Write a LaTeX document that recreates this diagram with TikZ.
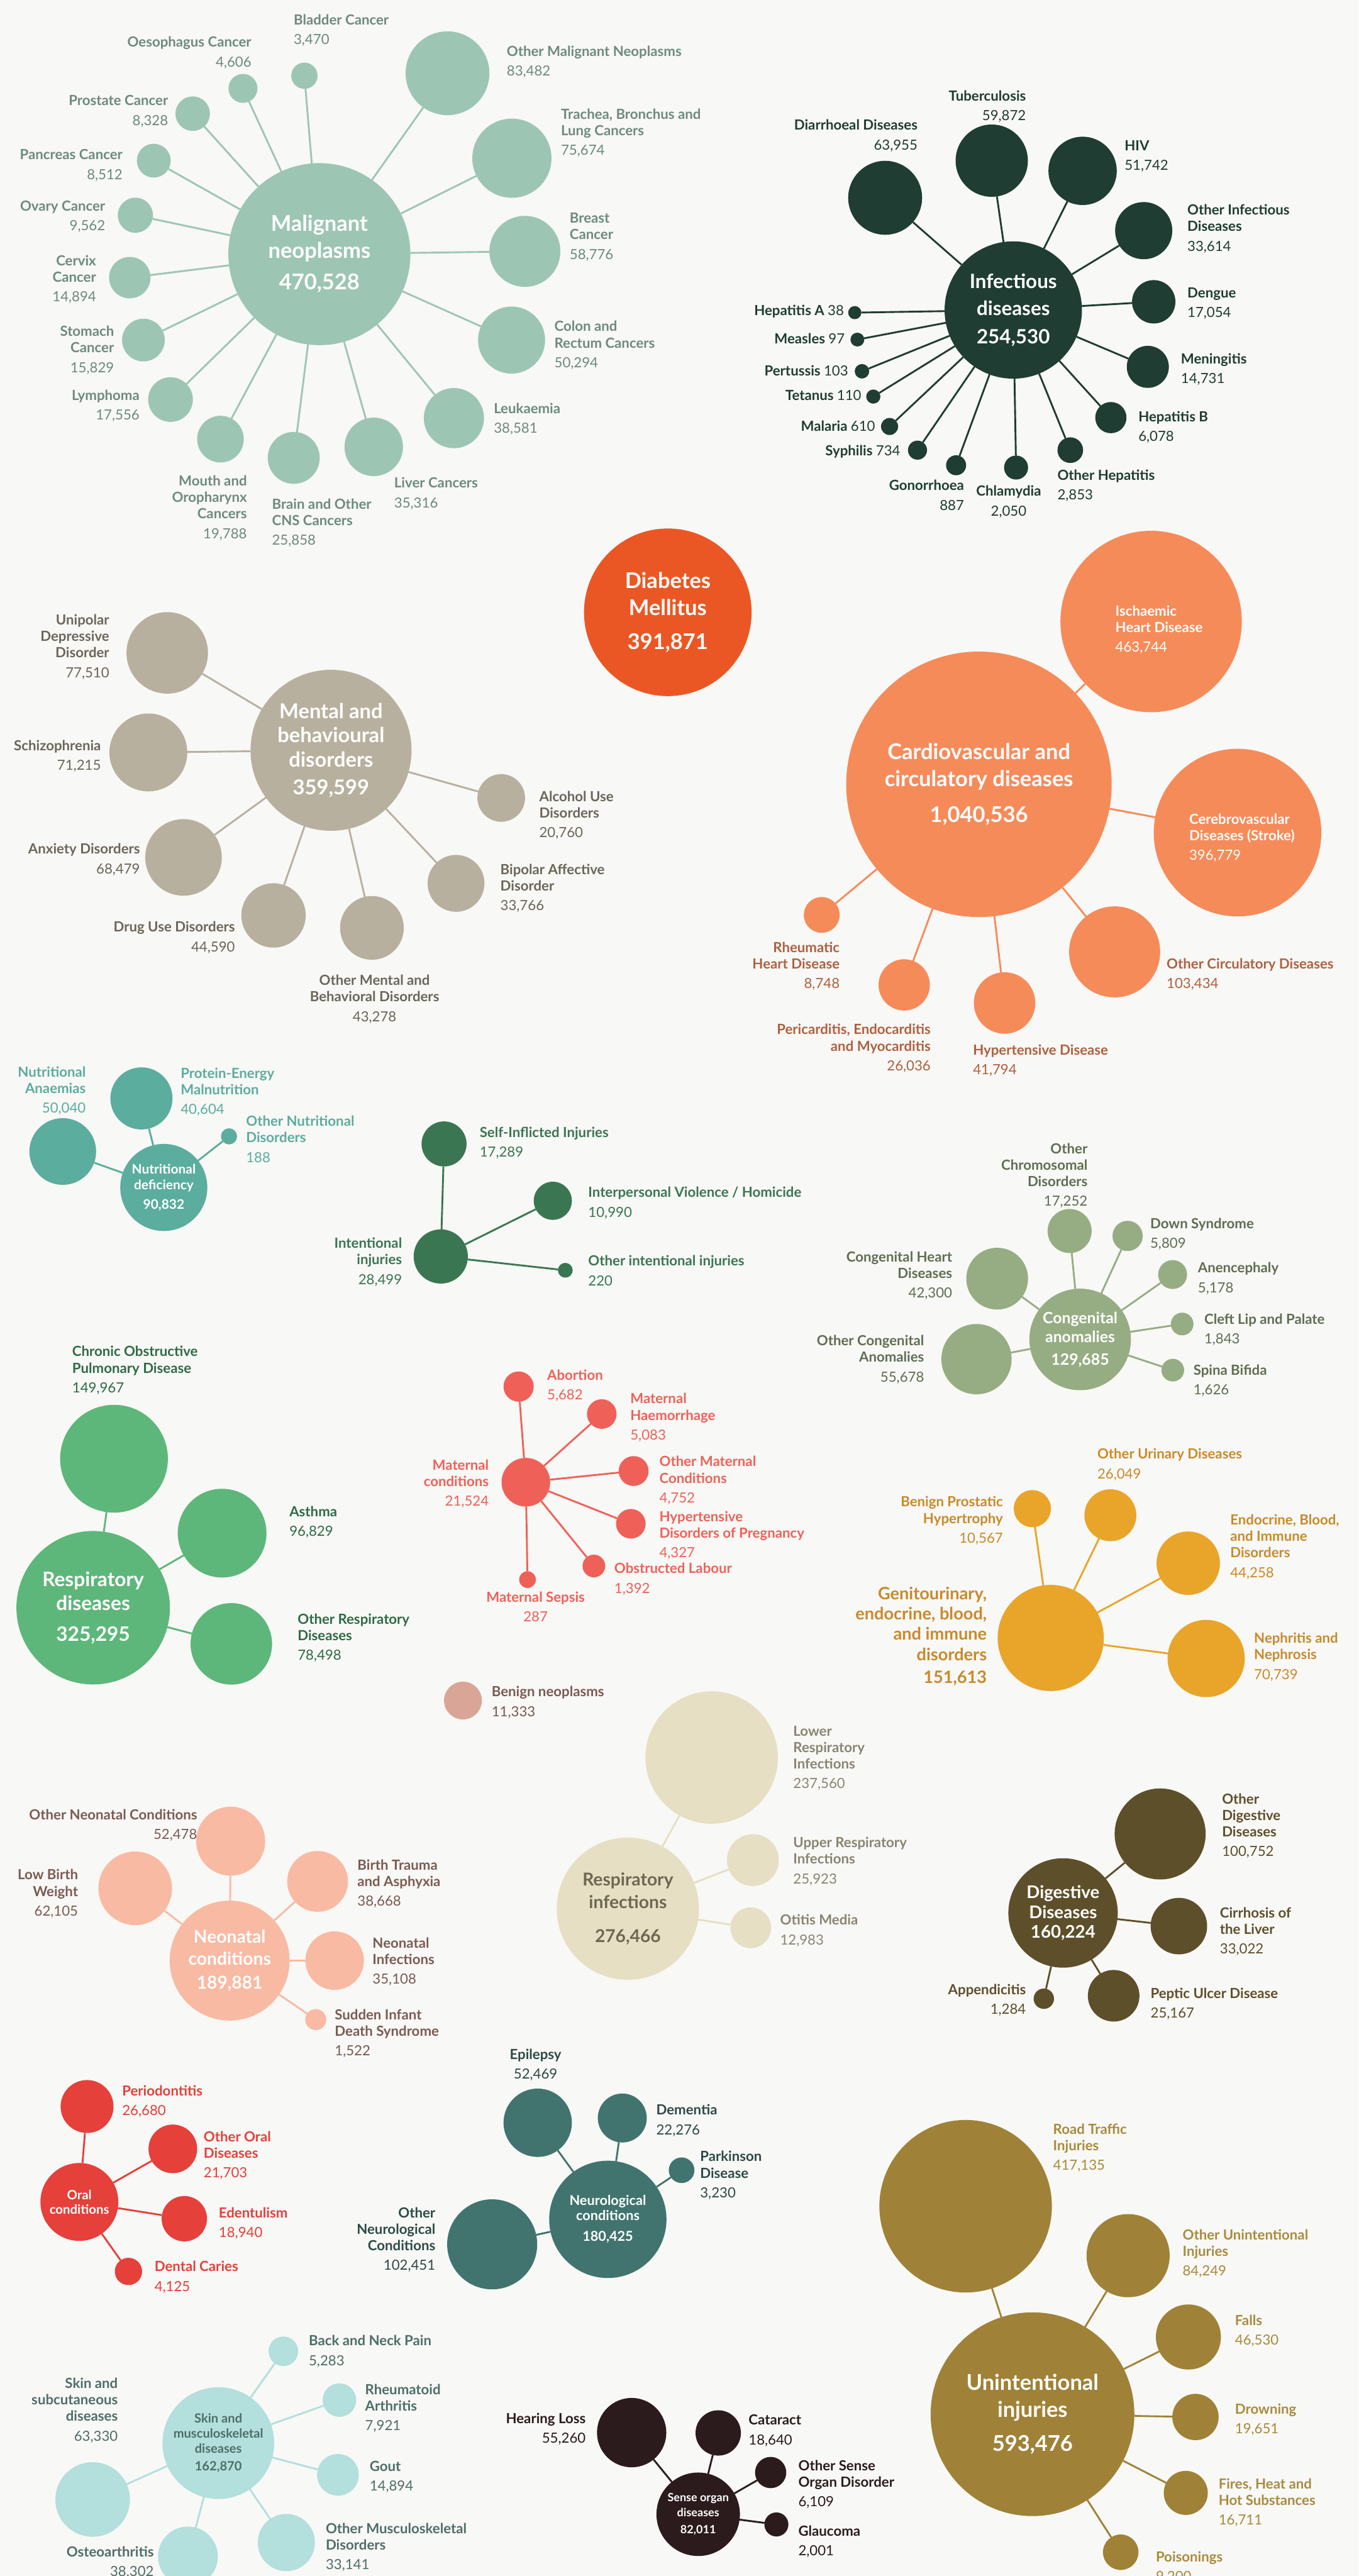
\documentclass[tikz,border=0pt]{standalone}
\usepackage{fontspec}
\setmainfont{Lato}
\usepackage{xcolor}
\usepackage{tikz}
\definecolor{paper}{HTML}{F8F8F6}
\definecolor{malfill}{HTML}{9CC6B3}
\definecolor{maltext}{HTML}{6D8B7D}
\definecolor{inffill}{HTML}{1F3D32}
\definecolor{diafill}{HTML}{EB5724}
\definecolor{menfill}{HTML}{B8B09E}
\definecolor{mentext}{HTML}{6B665A}
\definecolor{cvdfill}{HTML}{F68B5A}
\definecolor{cvdtext}{HTML}{B0603F}
\definecolor{nutfill}{HTML}{5BAD9E}
\definecolor{intfill}{HTML}{3B7652}
\definecolor{congfill}{HTML}{96AD83}
\definecolor{congtext}{HTML}{5E6E52}
\definecolor{resfill}{HTML}{5DB77A}
\definecolor{restext}{HTML}{2E6B45}
\definecolor{matfill}{HTML}{EF6158}
\definecolor{genfill}{HTML}{E9A52A}
\definecolor{gentext}{HTML}{C98A2A}
\definecolor{benfill}{HTML}{D9A597}
\definecolor{bentext}{HTML}{7A5A52}
\definecolor{neofill}{HTML}{F9BAA3}
\definecolor{neotext}{HTML}{7B5B52}
\definecolor{rinfill}{HTML}{E6DFC4}
\definecolor{rintext}{HTML}{8A8571}
\definecolor{rinhub}{HTML}{6E6852}
\definecolor{digfill}{HTML}{5E4F2B}
\definecolor{orafill}{HTML}{E5403A}
\definecolor{neufill}{HTML}{41746E}
\definecolor{neutext}{HTML}{2C4A46}
\definecolor{unifill}{HTML}{9F8237}
\definecolor{unitext}{HTML}{A88B3D}
\definecolor{mskfill}{HTML}{B3DFDC}
\definecolor{msktext}{HTML}{4E6E69}
\definecolor{senfill}{HTML}{2B1B1C}
\newcommand{\lbl}[3]{\begin{tabular}[t]{@{}#1@{}}#2\\[2pt]\mdseries #3\end{tabular}}
\newcommand{\hubfont}[2]{\fontsize{#1}{#2}\selectfont\bfseries}
\tikzset{
  hub/.style={circle, inner sep=0pt, outer sep=0pt, minimum size=#1pt, align=center, text=white},
  leaf/.style={circle, inner sep=0pt, outer sep=0pt, minimum size=#1pt},
  lab/.style={inner sep=0pt, outer sep=0pt, font=\fontsize{8.5}{10}\selectfont\bfseries},
  link/.style={line width=1.1pt},
  palette/.style 2 args={hub/.append style={fill=#1}, leaf/.append style={fill=#1}, link/.append style={draw=#1}, lab/.append style={text=#2}},
}
\begin{document}
\begin{tikzpicture}[x=1pt, y=-1pt]
  \path[fill=paper, use as bounding box] (0,0) rectangle (827,1568);

  \begin{scope}[palette={malfill}{maltext}]
  \node[hub=110.8, font=\hubfont{13.2}{16.3}] (mal) at (194.4,154.7) {Malignant\\neoplasms\\[3pt]470,528};
  \node[leaf=16] (mal-bladder) at (185.3,46.1) {};
  \node[leaf=17.6] (mal-oeso) at (147.9,53.8) {};
  \node[leaf=51] (mal-other) at (272.4,44.6) {};
  \node[leaf=21] (mal-prostate) at (117.3,69.2) {};
  \node[leaf=48.2] (mal-trachea) at (311.6,96.3) {};
  \node[leaf=20.6] (mal-pancreas) at (93.6,97.8) {};
  \node[leaf=21.4] (mal-ovary) at (82.4,131) {};
  \node[leaf=43.2] (mal-breast) at (319.5,153) {};
  \node[leaf=25.2] (mal-cervix) at (79,169) {};
  \node[leaf=40.8] (mal-colon) at (311.4,207) {};
  \node[leaf=26] (mal-stomach) at (87.3,207) {};
  \node[leaf=27.2] (mal-lymph) at (103.8,243.2) {};
  \node[leaf=36.6] (mal-leuk) at (276.3,254.5) {};
  \node[leaf=28.4] (mal-mouth) at (134.2,267.3) {};
  \node[leaf=31.6] (mal-brain) at (178.8,278.7) {};
  \node[leaf=35.6] (mal-liver) at (227.5,272) {};
  \node[lab, anchor=base west] (mal-bladder-l) at (178.8,15) {\lbl{l}{Bladder Cancer}{3,470}};
  \node[lab, anchor=base east] (mal-oeso-l) at (153,28.7) {\lbl{r}{Oesophagus Cancer}{4,606}};
  \node[lab, anchor=base west] (mal-other-l) at (308.5,34.2) {\lbl{l}{Other Malignant Neoplasms}{83,482}};
  \node[lab, anchor=base east] (mal-prostate-l) at (102.3,64.2) {\lbl{r}{Prostate Cancer}{8,328}};
  \node[lab, anchor=base west] (mal-trachea-l) at (341.5,72.5) {\lbl{l}{Trachea, Bronchus and\\Lung Cancers}{75,674}};
  \node[lab, anchor=base east] (mal-pancreas-l) at (74.6,97.2) {\lbl{r}{Pancreas Cancer}{8,512}};
  \node[lab, anchor=base east] (mal-ovary-l) at (64,128.3) {\lbl{r}{Ovary Cancer}{9,562}};
  \node[lab, anchor=base west] (mal-breast-l) at (346.8,135.8) {\lbl{l}{Breast\\Cancer}{58,776}};
  \node[lab, anchor=base east] (mal-cervix-l) at (58.5,161.7) {\lbl{r}{Cervix\\Cancer}{14,894}};
  \node[lab, anchor=base west] (mal-colon-l) at (337.5,201.7) {\lbl{l}{Colon and\\Rectum Cancers}{50,294}};
  \node[lab, anchor=base east] (mal-stomach-l) at (69.4,204.7) {\lbl{r}{Stomach\\Cancer}{15,829}};
  \node[lab, anchor=base east] (mal-lymph-l) at (84.9,243.7) {\lbl{r}{Lymphoma}{17,556}};
  \node[lab, anchor=base west] (mal-leuk-l) at (300.6,251.7) {\lbl{l}{Leukaemia}{38,581}};
  \node[lab, anchor=base east] (mal-mouth-l) at (150.3,295.7) {\lbl{r}{Mouth and\\Oropharynx\\Cancers}{19,788}};
  \node[lab, anchor=base west] (mal-brain-l) at (165.6,309.8) {\lbl{l}{Brain and Other\\CNS Cancers}{25,858}};
  \node[lab, anchor=base west] (mal-liver-l) at (240,297) {\lbl{l}{Liver Cancers}{35,316}};
  \draw[link] (mal) -- (mal-bladder);
  \draw[link] (mal) -- (mal-oeso);
  \draw[link] (mal) -- (mal-other);
  \draw[link] (mal) -- (mal-prostate);
  \draw[link] (mal) -- (mal-trachea);
  \draw[link] (mal) -- (mal-pancreas);
  \draw[link] (mal) -- (mal-ovary);
  \draw[link] (mal) -- (mal-breast);
  \draw[link] (mal) -- (mal-cervix);
  \draw[link] (mal) -- (mal-colon);
  \draw[link] (mal) -- (mal-stomach);
  \draw[link] (mal) -- (mal-lymph);
  \draw[link] (mal) -- (mal-leuk);
  \draw[link] (mal) -- (mal-mouth);
  \draw[link] (mal) -- (mal-brain);
  \draw[link] (mal) -- (mal-liver);
  \end{scope}

  \begin{scope}[palette={inffill}{inffill}]
  \node[hub=83.6, font=\hubfont{12}{16.3}] (inf) at (616.8,188.7) {Infectious\\diseases\\[1pt]254,530};
  \node[leaf=45] (inf-diarr) at (538.8,120.4) {};
  \node[leaf=44] (inf-tb) at (603.7,97.8) {};
  \node[leaf=41.6] (inf-hiv) at (659,104) {};
  \node[leaf=34.8] (inf-other) at (696.2,140.4) {};
  \node[leaf=26.4] (inf-dengue) at (702.3,183.7) {};
  \node[leaf=25.6] (inf-mening) at (698.7,223.3) {};
  \node[leaf=19] (inf-hepb) at (676.2,254.2) {};
  \node[leaf=8] (inf-hepa) at (520.3,190.3) {};
  \node[leaf=8.4] (inf-measles) at (521.9,206.7) {};
  \node[leaf=8.8] (inf-pert) at (524.7,226) {};
  \node[leaf=8.6] (inf-tet) at (531.6,241.4) {};
  \node[leaf=10.4] (inf-malaria) at (541.5,259.6) {};
  \node[leaf=11.6] (inf-syph) at (558.5,274) {};
  \node[leaf=12.2] (inf-gono) at (582,283.2) {};
  \node[leaf=14.6] (inf-chlam) at (618.5,284.6) {};
  \node[leaf=15.6] (inf-othhep) at (651.5,274) {};
  \node[lab, anchor=base east] (inf-diarr-l) at (558.5,79.2) {\lbl{r}{Diarrhoeal Diseases}{63,955}};
  \node[lab, anchor=base east] (inf-tb-l) at (624.5,61.3) {\lbl{r}{Tuberculosis}{59,872}};
  \node[lab, anchor=base west] (inf-hiv-l) at (684.6,91.7) {\lbl{l}{HIV}{51,742}};
  \node[lab, anchor=base west] (inf-other-l) at (722.8,130.8) {\lbl{l}{Other Infectious\\Diseases}{33,614}};
  \node[lab, anchor=base west] (inf-dengue-l) at (722.8,181.3) {\lbl{l}{Dengue}{17,054}};
  \node[lab, anchor=base west] (inf-mening-l) at (718.9,221.3) {\lbl{l}{Meningitis}{14,731}};
  \node[lab, anchor=base west] (inf-hepb-l) at (693,256.7) {\lbl{l}{Hepatitis B}{6,078}};
  \node[lab, anchor=base east] (inf-hepa-l) at (513.7,192) {Hepatitis A \mdseries 38};
  \node[lab, anchor=base east] (inf-measles-l) at (514.2,209.2) {Measles \mdseries 97};
  \node[lab, anchor=base east] (inf-pert-l) at (516.3,228.7) {Pertussis \mdseries 103};
  \node[lab, anchor=base east] (inf-tet-l) at (524.3,243.7) {Tetanus \mdseries 110};
  \node[lab, anchor=base east] (inf-malaria-l) at (532.7,262.3) {Malaria \mdseries 610};
  \node[lab, anchor=base east] (inf-syph-l) at (548,277.3) {Syphilis \mdseries 734};
  \node[lab, anchor=base east] (inf-gono-l) at (586.8,298.5) {\lbl{r}{Gonorrhoea}{887}};
  \node[lab, anchor=base] (inf-chlam-l) at (614,302) {\lbl{c}{Chlamydia}{2,050}};
  \node[lab, anchor=base west] (inf-othhep-l) at (643.7,292.3) {\lbl{l}{Other Hepatitis}{2,853}};
  \draw[link] (inf) -- (inf-diarr);
  \draw[link] (inf) -- (inf-tb);
  \draw[link] (inf) -- (inf-hiv);
  \draw[link] (inf) -- (inf-other);
  \draw[link] (inf) -- (inf-dengue);
  \draw[link] (inf) -- (inf-mening);
  \draw[link] (inf) -- (inf-hepb);
  \draw[link] (inf) -- (inf-hepa);
  \draw[link] (inf) -- (inf-measles);
  \draw[link] (inf) -- (inf-pert);
  \draw[link] (inf) -- (inf-tet);
  \draw[link] (inf) -- (inf-malaria);
  \draw[link] (inf) -- (inf-syph);
  \draw[link] (inf) -- (inf-gono);
  \draw[link] (inf) -- (inf-chlam);
  \draw[link] (inf) -- (inf-othhep);
  \end{scope}

  \node[hub=102, fill=diafill, font=\hubfont{13.2}{16.6}] (dia) at (406.5,372.7) {Diabetes\\Mellitus\\[4pt]391,871};

  \begin{scope}[palette={menfill}{mentext}]
  \node[hub=98, font=\hubfont{12.5}{14.8}] (men) at (201.5,456.7) {Mental and\\behavioural\\disorders\\[2pt]359,599};
  \node[leaf=49.6] (men-unip) at (101.8,397.4) {};
  \node[leaf=47.4] (men-schiz) at (90.3,458) {};
  \node[leaf=29] (men-alc) at (305.1,485.7) {};
  \node[leaf=46.6] (men-anx) at (111.7,521.9) {};
  \node[leaf=39.2] (men-drug) at (166.5,557.2) {};
  \node[leaf=38.8] (men-other) at (226.4,564.8) {};
  \node[leaf=34.6] (men-bipolar) at (277.6,537.7) {};
  \node[lab, anchor=base east] (men-unip-l) at (66.5,380.3) {\lbl{r}{Unipolar\\Depressive\\Disorder}{77,510}};
  \node[lab, anchor=base east] (men-schiz-l) at (61.4,456.8) {\lbl{r}{Schizophrenia}{71,215}};
  \node[lab, anchor=base west] (men-alc-l) at (328.3,487.7) {\lbl{l}{Alcohol Use\\Disorders}{20,760}};
  \node[lab, anchor=base east] (men-anx-l) at (85.2,519.8) {\lbl{r}{Anxiety Disorders}{68,479}};
  \node[lab, anchor=base east] (men-drug-l) at (143,567.2) {\lbl{r}{Drug Use Disorders}{44,590}};
  \node[lab, anchor=base] (men-other-l) at (228,599.7) {\lbl{c}{Other Mental and\\Behavioral Disorders}{43,278}};
  \node[lab, anchor=base west] (men-bipolar-l) at (304.6,532.2) {\lbl{l}{Bipolar Affective\\Disorder}{33,766}};
  \draw[link] (men) -- (men-unip);
  \draw[link] (men) -- (men-schiz);
  \draw[link] (men) -- (men-alc);
  \draw[link] (men) -- (men-anx);
  \draw[link] (men) -- (men-drug);
  \draw[link] (men) -- (men-other);
  \draw[link] (men) -- (men-bipolar);
  \end{scope}

  \begin{scope}[palette={cvdfill}{cvdtext}]
  \node[hub=161.6, font=\hubfont{13.2}{16.7}] (cvd) at (595.9,477.4) {Cardiovascular and\\circulatory diseases\\[5pt]1,040,536};
  \node[leaf=110.4] (cvd-isch) at (700.7,378.3) {};
  \node[leaf=102] (cvd-cereb) at (753.3,506.8) {};
  \node[leaf=21.8] (cvd-rheum) at (500.2,556.9) {};
  \node[leaf=31.2] (cvd-peri) at (550.4,599.5) {};
  \node[leaf=37.4] (cvd-hyper) at (611.5,610.5) {};
  \node[leaf=55.4] (cvd-other) at (678.5,579.4) {};
  \node[lab, text=white, anchor=base west] (cvd-isch-l) at (679,374.8) {\lbl{l}{Ischaemic\\Heart Disease}{463,744}};
  \node[lab, text=white, anchor=base west] (cvd-cereb-l) at (723.9,501.5) {\lbl{l}{Cerebrovascular\\Diseases (Stroke)}{396,779}};
  \node[lab, anchor=base east] (cvd-rheum-l) at (511.1,579.7) {\lbl{r}{Rheumatic\\Heart Disease}{8,748}};
  \node[lab, anchor=base east] (cvd-peri-l) at (566.5,629.7) {\lbl{r}{Pericarditis, Endocarditis\\and Myocarditis}{26,036}};
  \node[lab, anchor=base west] (cvd-hyper-l) at (592.3,642.2) {\lbl{l}{Hypertensive Disease}{41,794}};
  \node[lab, anchor=base west] (cvd-other-l) at (710.2,589.7) {\lbl{l}{Other Circulatory Diseases}{103,434}};
  \draw[link] (cvd) -- (cvd-isch);
  \draw[link] (cvd) -- (cvd-cereb);
  \draw[link] (cvd) -- (cvd-rheum);
  \draw[link] (cvd) -- (cvd-peri);
  \draw[link] (cvd) -- (cvd-hyper);
  \draw[link] (cvd) -- (cvd-other);
  \end{scope}

  \begin{scope}[palette={nutfill}{nutfill}]
  \node[hub=53, font=\hubfont{8}{9.7}] (nut) at (99.7,722.8) {Nutritional\\deficiency\\[2pt]90,832};
  \node[leaf=40.6] (nut-anaem) at (38.2,700.9) {};
  \node[leaf=37.8] (nut-prot) at (86.1,668.6) {};
  \node[leaf=9.8] (nut-other) at (139.4,691.7) {};
  \node[lab, anchor=base east] (nut-anaem-l) at (52.2,655.5) {\lbl{r}{Nutritional\\Anaemias}{50,040}};
  \node[lab, anchor=base west] (nut-prot-l) at (110,656.3) {\lbl{l}{Protein-Energy\\Malnutrition}{40,604}};
  \node[lab, anchor=base west] (nut-other-l) at (149.8,685.5) {\lbl{l}{Other Nutritional\\Disorders}{188}};
  \draw[link] (nut) -- (nut-anaem);
  \draw[link] (nut) -- (nut-prot);
  \draw[link] (nut) -- (nut-other);
  \end{scope}

  \begin{scope}[palette={intfill}{intfill}]
  \node[leaf=33] (int) at (268.3,764.8) {};
  \node[leaf=27.4] (int-self) at (270.3,696.3) {};
  \node[leaf=23.2] (int-inter) at (336.5,730.9) {};
  \node[leaf=9] (int-other) at (344.1,773.2) {};
  \node[lab, anchor=base east] (int-l) at (244.7,759.7) {\lbl{r}{Intentional\\injuries}{28,499}};
  \node[lab, anchor=base west] (int-self-l) at (292,692.2) {\lbl{l}{Self-Inflicted Injuries}{17,289}};
  \node[lab, anchor=base west] (int-inter-l) at (358.1,728.8) {\lbl{l}{Interpersonal Violence / Homicide}{10,990}};
  \node[lab, anchor=base west] (int-other-l) at (358.1,770.5) {\lbl{l}{Other intentional injuries}{220}};
  \draw[link] (int) -- (int-self);
  \draw[link] (int) -- (int-inter);
  \draw[link] (int) -- (int-other);
  \end{scope}

  \begin{scope}[palette={congfill}{congtext}]
  \node[hub=61.8, font=\hubfont{9.5}{11.7}] (cong) at (657.5,815.3) {Congenital\\anomalies\\[2pt]129,685};
  \node[leaf=26.8] (cong-chrom) at (651.1,749.3) {};
  \node[leaf=18.4] (cong-down) at (686.4,752.3) {};
  \node[leaf=17.6] (cong-anen) at (713.8,775.8) {};
  \node[leaf=37.6] (cong-heart) at (607,778.3) {};
  \node[leaf=13.8] (cong-cleft) at (719.6,805.9) {};
  \node[leaf=13.8] (cong-spina) at (713.9,834) {};
  \node[leaf=42.8] (cong-other) at (594.4,827.3) {};
  \node[lab, anchor=base east] (cong-chrom-l) at (662,702.2) {\lbl{r}{Other\\Chromosomal\\Disorders}{17,252}};
  \node[lab, anchor=base west] (cong-down-l) at (700.2,747.7) {\lbl{l}{Down Syndrome}{5,809}};
  \node[lab, anchor=base west] (cong-anen-l) at (729.2,774.7) {\lbl{l}{Anencephaly}{5,178}};
  \node[lab, anchor=base east] (cong-heart-l) at (579.6,768) {\lbl{r}{Congenital Heart\\Diseases}{42,300}};
  \node[lab, anchor=base west] (cong-cleft-l) at (733.1,806) {\lbl{l}{Cleft Lip and Palate}{1,843}};
  \node[lab, anchor=base west] (cong-spina-l) at (726.5,836.9) {\lbl{l}{Spina Bifida}{1,626}};
  \node[lab, anchor=base east] (cong-other-l) at (562.5,819.1) {\lbl{r}{Other Congenital\\Anomalies}{55,678}};
  \draw[link] (cong) -- (cong-chrom);
  \draw[link] (cong) -- (cong-down);
  \draw[link] (cong) -- (cong-anen);
  \draw[link] (cong) -- (cong-heart);
  \draw[link] (cong) -- (cong-cleft);
  \draw[link] (cong) -- (cong-spina);
  \draw[link] (cong) -- (cong-other);
  \end{scope}

  \begin{scope}[palette={resfill}{restext}]
  \node[hub=93.4, font=\hubfont{12.1}{14.7}] (res) at (56.7,978.6) {Respiratory\\diseases\\[4pt]325,295};
  \node[leaf=65.6] (res-copd) at (69.4,887.9) {};
  \node[leaf=54] (res-asthma) at (135.2,933.2) {};
  \node[leaf=49.6] (res-other) at (140.8,1000.6) {};
  \node[lab, anchor=base west] (res-copd-l) at (44,825.7) {\lbl{l}{Chronic Obstructive\\Pulmonary Disease}{149,967}};
  \node[lab, anchor=base west] (res-asthma-l) at (176.2,923.1) {\lbl{l}{Asthma}{96,829}};
  \node[lab, anchor=base west] (res-other-l) at (181.2,988.6) {\lbl{l}{Other Respiratory\\Diseases}{78,498}};
  \draw[link] (res) -- (res-copd);
  \draw[link] (res) -- (res-asthma);
  \draw[link] (res) -- (res-other);
  \end{scope}

  \begin{scope}[palette={matfill}{matfill}]
  \node[leaf=29.6] (mat) at (320.1,902.2) {};
  \node[leaf=18.4] (mat-abort) at (315.7,844) {};
  \node[leaf=18] (mat-haem) at (366.3,860.7) {};
  \node[leaf=18.2] (mat-other) at (385.7,895.4) {};
  \node[leaf=18] (mat-hyper) at (384,927.5) {};
  \node[leaf=13.8] (mat-obst) at (361.5,953.2) {};
  \node[leaf=10.2] (mat-sepsis) at (321.1,961.5) {};
  \node[lab, anchor=base east] (mat-l) at (297.5,894.7) {\lbl{r}{Maternal\\conditions}{21,524}};
  \node[lab, anchor=base west] (mat-abort-l) at (333.1,839.9) {\lbl{l}{Abortion}{5,682}};
  \node[lab, anchor=base west] (mat-haem-l) at (383.7,854.4) {\lbl{l}{Maternal\\Haemorrhage}{5,083}};
  \node[lab, anchor=base west] (mat-other-l) at (401.4,892.7) {\lbl{l}{Other Maternal\\Conditions}{4,752}};
  \node[lab, anchor=base west] (mat-hyper-l) at (401.4,926.1) {\lbl{l}{Hypertensive\\Disorders of Pregnancy}{4,327}};
  \node[lab, anchor=base west] (mat-obst-l) at (374,957.7) {\lbl{l}{Obstructed Labour}{1,392}};
  \node[lab, anchor=base] (mat-sepsis-l) at (326,975.2) {\lbl{c}{Maternal Sepsis}{287}};
  \draw[link] (mat) -- (mat-abort);
  \draw[link] (mat) -- (mat-haem);
  \draw[link] (mat) -- (mat-other);
  \draw[link] (mat) -- (mat-hyper);
  \draw[link] (mat) -- (mat-obst);
  \draw[link] (mat) -- (mat-sepsis);
  \end{scope}

  \begin{scope}[palette={genfill}{gentext}]
  \node[leaf=64.6] (gen) at (639.6,997) {};
  \node[leaf=22.6] (gen-bph) at (628.4,918.3) {};
  \node[leaf=31.6] (gen-urin) at (675.9,922.3) {};
  \node[leaf=38.6] (gen-endo) at (723.3,951.5) {};
  \node[leaf=47] (gen-neph) at (734.2,1009.5) {};
  \node[lab, font=\hubfont{10.4}{12.4}, anchor=base east] (gen-l) at (600.7,973.5) {\begin{tabular}[t]{@{}r@{}}Genitourinary,\\endocrine, blood,\\and immune\\disorders\\[1.5pt]151,613\end{tabular}};
  \node[lab, anchor=base east] (gen-bph-l) at (610.5,917.2) {\lbl{r}{Benign Prostatic\\Hypertrophy}{10,567}};
  \node[lab, anchor=base west] (gen-urin-l) at (668,888.1) {\lbl{l}{Other Urinary Diseases}{26,049}};
  \node[lab, anchor=base west] (gen-endo-l) at (748.9,928.1) {\lbl{l}{Endocrine, Blood,\\and Immune\\Disorders}{44,258}};
  \node[lab, anchor=base west] (gen-neph-l) at (763.4,1000.2) {\lbl{l}{Nephritis and\\Nephrosis}{70,739}};
  \draw[link] (gen) -- (gen-bph);
  \draw[link] (gen) -- (gen-urin);
  \draw[link] (gen) -- (gen-endo);
  \draw[link] (gen) -- (gen-neph);
  \end{scope}

  \begin{scope}[palette={benfill}{bentext}]
  \node[leaf=23] (ben) at (281.8,1035.1) {};
  \node[lab, anchor=base west] (ben-l) at (299.3,1032.7) {\lbl{l}{Benign neoplasms}{11,333}};
  \end{scope}

  \begin{scope}[palette={neofill}{neotext}]
  \node[hub=73, font=\hubfont{10.8}{13.4}] (neo) at (139.8,1193.4) {Neonatal\\conditions\\[1pt]189,881};
  \node[leaf=42] (neo-other) at (140.4,1120.7) {};
  \node[leaf=44.8] (neo-low) at (82.3,1149.4) {};
  \node[leaf=37] (neo-birth) at (193.3,1145.2) {};
  \node[leaf=35.6] (neo-inf) at (203.7,1193.4) {};
  \node[leaf=12.8] (neo-sids) at (192.2,1229.3) {};
  \node[lab, anchor=base east] (neo-other-l) at (120,1107.6) {\lbl{r}{Other Neonatal Conditions}{52,478}};
  \node[lab, anchor=base east] (neo-low-l) at (47.5,1144.2) {\lbl{r}{Low Birth\\Weight}{62,105}};
  \node[lab, anchor=base west] (neo-birth-l) at (217.6,1138.1) {\lbl{l}{Birth Trauma\\and Asphyxia}{38,668}};
  \node[lab, anchor=base west] (neo-inf-l) at (226.8,1185.6) {\lbl{l}{Neonatal\\Infections}{35,108}};
  \node[lab, anchor=base west] (neo-sids-l) at (203.8,1229.2) {\lbl{l}{Sudden Infant\\Death Syndrome}{1,522}};
  \draw[link] (neo) -- (neo-other);
  \draw[link] (neo) -- (neo-low);
  \draw[link] (neo) -- (neo-birth);
  \draw[link] (neo) -- (neo-inf);
  \draw[link] (neo) -- (neo-sids);
  \end{scope}

  \begin{scope}[palette={rinfill}{rintext}]
  \node[hub=86.6, text=rinhub, font=\hubfont{10.8}{13.7}] (rin) at (382.2,1161.8) {Respiratory\\infections\\[7pt]276,466};
  \node[leaf=80.6] (rin-lower) at (433.2,1069.8) {};
  \node[leaf=31.6] (rin-upper) at (458.3,1132.2) {};
  \node[leaf=24.8] (rin-otitis) at (457,1173.4) {};
  \node[lab, anchor=base west] (rin-lower-l) at (482.9,1056.7) {\lbl{l}{Lower\\Respiratory\\Infections}{237,560}};
  \node[lab, anchor=base west] (rin-upper-l) at (482.9,1124.6) {\lbl{l}{Upper Respiratory\\Infections}{25,923}};
  \node[lab, anchor=base west] (rin-otitis-l) at (474.9,1171.7) {\lbl{l}{Otitis Media}{12,983}};
  \draw[link] (rin) -- (rin-lower);
  \draw[link] (rin) -- (rin-upper);
  \draw[link] (rin) -- (rin-otitis);
  \end{scope}

  \begin{scope}[palette={digfill}{digfill}]
  \node[hub=66.6, font=\hubfont{10.6}{12.2}] (dig) at (647.1,1164.4) {Digestive\\Diseases\\160,224};
  \node[leaf=55.4] (dig-other) at (706.2,1116.3) {};
  \node[leaf=34.4] (dig-cirr) at (717.6,1172.4) {};
  \node[leaf=12.4] (dig-app) at (635.4,1216.6) {};
  \node[leaf=31.4] (dig-peptic) at (677.9,1214.8) {};
  \node[lab, anchor=base west] (dig-other-l) at (743.9,1097.9) {\lbl{l}{Other\\Digestive\\Diseases}{100,752}};
  \node[lab, anchor=base west] (dig-cirr-l) at (742.6,1167.2) {\lbl{l}{Cirrhosis of\\the Liver}{33,022}};
  \node[lab, anchor=base east] (dig-app-l) at (624.5,1213.9) {\lbl{r}{Appendicitis}{1,284}};
  \node[lab, anchor=base west] (dig-peptic-l) at (700.4,1216.4) {\lbl{l}{Peptic Ulcer Disease}{25,167}};
  \draw[link] (dig) -- (dig-other);
  \draw[link] (dig) -- (dig-cirr);
  \draw[link] (dig) -- (dig-app);
  \draw[link] (dig) -- (dig-peptic);
  \end{scope}

  \begin{scope}[palette={orafill}{orafill}]
  \node[hub=47.4, font=\hubfont{7.8}{8.8}] (ora) at (48.3,1340.3) {Oral\\conditions};
  \node[leaf=32.2] (ora-perio) at (53,1282.2) {};
  \node[leaf=29.6] (ora-other) at (105.2,1308) {};
  \node[leaf=27.6] (ora-edent) at (112.2,1350.5) {};
  \node[leaf=16.6] (ora-caries) at (78.2,1382.6) {};
  \node[lab, anchor=base west] (ora-perio-l) at (74.4,1275.7) {\lbl{l}{Periodontitis}{26,680}};
  \node[lab, anchor=base west] (ora-other-l) at (124,1303.5) {\lbl{l}{Other Oral\\Diseases}{21,703}};
  \node[lab, anchor=base west] (ora-edent-l) at (133.2,1349.9) {\lbl{l}{Edentulism}{18,940}};
  \node[lab, anchor=base west] (ora-caries-l) at (94.1,1382.7) {\lbl{l}{Dental Caries}{4,125}};
  \draw[link] (ora) -- (ora-perio);
  \draw[link] (ora) -- (ora-other);
  \draw[link] (ora) -- (ora-edent);
  \draw[link] (ora) -- (ora-caries);
  \end{scope}

  \begin{scope}[palette={neufill}{neutext}]
  \node[hub=71.4, font=\hubfont{8.3}{8.9}] (neu) at (370,1350.9) {Neurological\\conditions\\[4pt]180,425};
  \node[leaf=41.6] (neu-epi) at (327.3,1292.1) {};
  \node[leaf=29.8] (neu-dem) at (378.8,1289.2) {};
  \node[leaf=15.6] (neu-park) at (414.9,1321) {};
  \node[leaf=54.8] (neu-other) at (299.6,1366.1) {};
  \node[lab, anchor=base] (neu-epi-l) at (326,1253.5) {\lbl{c}{Epilepsy}{52,469}};
  \node[lab, anchor=base west] (neu-dem-l) at (399.5,1287.3) {\lbl{l}{Dementia}{22,276}};
  \node[lab, anchor=base west] (neu-park-l) at (426.2,1315.7) {\lbl{l}{Parkinson\\Disease}{3,230}};
  \node[lab, anchor=base east] (neu-other-l) at (265,1349.9) {\lbl{r}{Other\\Neurological\\Conditions}{102,451}};
  \draw[link] (neu) -- (neu-epi);
  \draw[link] (neu) -- (neu-dem);
  \draw[link] (neu) -- (neu-park);
  \draw[link] (neu) -- (neu-other);
  \end{scope}

  \begin{scope}[palette={unifill}{unitext}]
  \node[hub=124, font=\hubfont{13.2}{16.7}] (uni) at (628.5,1469.5) {Unintentional\\injuries\\[4pt]593,476};
  \node[leaf=105] (uni-road) at (587.8,1342.9) {};
  \node[leaf=50.6] (uni-other) at (686.7,1373) {};
  \node[leaf=39.6] (uni-falls) at (723.4,1422.5) {};
  \node[leaf=28.2] (uni-drown) at (727.7,1471.2) {};
  \node[leaf=26.8] (uni-fires) at (721.8,1517.4) {};
  \node[leaf=21.6] (uni-pois) at (682.2,1553.5) {};
  \node[lab, anchor=base west] (uni-road-l) at (641.1,1298.9) {\lbl{l}{Road Traffic\\Injuries}{417,135}};
  \node[lab, anchor=base west] (uni-other-l) at (719.9,1363.2) {\lbl{l}{Other Unintentional\\Injuries}{84,249}};
  \node[lab, anchor=base west] (uni-falls-l) at (751.8,1415.4) {\lbl{l}{Falls}{46,530}};
  \node[lab, anchor=base west] (uni-drown-l) at (751.8,1469.4) {\lbl{l}{Drowning}{19,651}};
  \node[lab, anchor=base west] (uni-fires-l) at (741.8,1514.9) {\lbl{l}{Fires, Heat and\\Hot Substances}{16,711}};
  \node[lab, anchor=base west] (uni-pois-l) at (703.6,1559.4) {\lbl{l}{Poisonings}{9,200}};
  \draw[link] (uni) -- (uni-road);
  \draw[link] (uni) -- (uni-other);
  \draw[link] (uni) -- (uni-falls);
  \draw[link] (uni) -- (uni-drown);
  \draw[link] (uni) -- (uni-fires);
  \draw[link] (uni) -- (uni-pois);
  \end{scope}

  \begin{scope}[palette={mskfill}{msktext}]
  \node[hub=68, text=msktext, font=\hubfont{7.7}{9.2}] (msk) at (132.9,1487.1) {Skin and\\musculoskeletal\\diseases\\[1.5pt]162,870};
  \node[leaf=18] (msk-back) at (172.5,1431.2) {};
  \node[leaf=20.4] (msk-rheum) at (206.6,1460.9) {};
  \node[leaf=25.4] (msk-gout) at (205.7,1506.4) {};
  \node[leaf=34.8] (msk-other) at (174.3,1547.6) {};
  \node[leaf=45.4] (msk-skin) at (56.4,1521.4) {};
  \node[leaf=36.4] (msk-osteo) at (114.4,1556.1) {};
  \node[lab, anchor=base west] (msk-back-l) at (188,1427.8) {\lbl{l}{Back and Neck Pain}{5,283}};
  \node[lab, anchor=base west] (msk-rheum-l) at (222.3,1457.4) {\lbl{l}{Rheumatoid\\Arthritis}{7,921}};
  \node[lab, anchor=base west] (msk-gout-l) at (225,1504.1) {\lbl{l}{Gout}{14,894}};
  \node[lab, anchor=base west] (msk-other-l) at (198.3,1542) {\lbl{l}{Other Musculoskeletal\\Disorders}{33,141}};
  \node[lab, anchor=base east] (msk-skin-l) at (71.7,1453.8) {\lbl{r}{Skin and\\subcutaneous\\diseases}{63,330}};
  \node[lab, anchor=base east] (msk-osteo-l) at (93.6,1556.2) {\lbl{r}{Osteoarthritis}{38,302}};
  \draw[link] (msk) -- (msk-back);
  \draw[link] (msk) -- (msk-rheum);
  \draw[link] (msk) -- (msk-gout);
  \draw[link] (msk) -- (msk-other);
  \draw[link] (msk) -- (msk-skin);
  \draw[link] (msk) -- (msk-osteo);
  \end{scope}

  \begin{scope}[palette={senfill}{senfill}]
  \node[hub=50.8, font=\hubfont{6.9}{9.3}] (sen) at (425,1530.4) {Sense organ\\diseases\\[1pt]82,011};
  \node[leaf=42.2] (sen-hear) at (384.5,1480.7) {};
  \node[leaf=27.6] (sen-cat) at (437.2,1480.9) {};
  \node[leaf=19] (sen-other) at (469.1,1505) {};
  \node[leaf=14.6] (sen-glauc) at (472.6,1536.6) {};
  \node[lab, anchor=base east] (sen-hear-l) at (356.5,1475) {\lbl{r}{Hearing Loss}{55,260}};
  \node[lab, anchor=base west] (sen-cat-l) at (455.7,1476.1) {\lbl{l}{Cataract}{18,640}};
  \node[lab, anchor=base west] (sen-other-l) at (486,1503.7) {\lbl{l}{Other Sense\\Organ Disorder}{6,109}};
  \node[lab, anchor=base west] (sen-glauc-l) at (486,1543.7) {\lbl{l}{Glaucoma}{2,001}};
  \draw[link] (sen) -- (sen-hear);
  \draw[link] (sen) -- (sen-cat);
  \draw[link] (sen) -- (sen-other);
  \draw[link] (sen) -- (sen-glauc);
  \end{scope}
\end{tikzpicture}
\end{document}
